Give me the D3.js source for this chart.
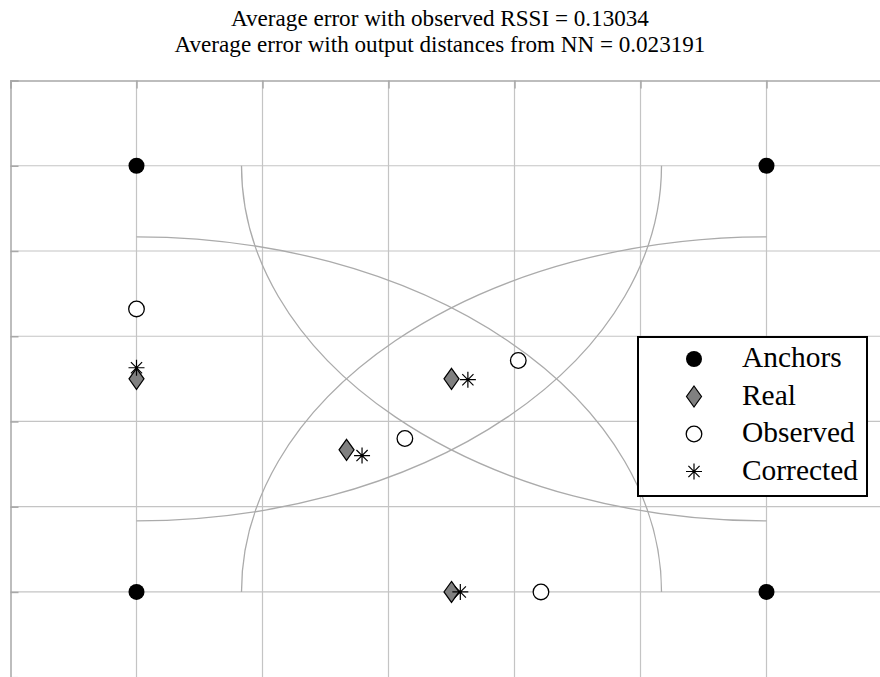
<!DOCTYPE html>
<html>
<head>
<meta charset="utf-8">
<script src="https://cdn.jsdelivr.net/npm/d3@7"></script>
<style>
  html, body { margin: 0; padding: 0; background: #fff; }
  svg { display: block; }
  text { font-family: "Liberation Serif", "DejaVu Serif", serif; fill: #000; }
</style>
</head>
<body>
<svg id="chart" width="880" height="677"></svg>
<script>
// ---- data ----
const titleLines = [
  "Average error with observed RSSI = 0.13034",
  "Average error with output distances from NN = 0.023191"
];
const anchorsX = [0, 5, 0, 5];
const anchorsY = [0, 0, 5, 5];
const realX = [0, 2.5, 1.667, 2.5];
const realY = [2.5, 2.5, 1.667, 0];
const observedX = [0, 3.03, 2.13, 3.21];
const observedY = [3.32, 2.715, 1.80, 0];
const correctedX = [0, 2.63, 1.79, 2.57];
const correctedY = [2.63, 2.49, 1.60, 0];
const circleRadius = [4.1667, 4.1667, 4.1667, 4.1667];
const xTicks = [-1, 0, 1, 2, 3, 4, 5, 6];
const yTicks = [-1, 0, 1, 2, 3, 4, 5, 6];
const legendLabels = ["Anchors", "Real", "Observed", "Corrected"];

// ---- layout ----
const svg = d3.select("#chart");
const x = d3.scaleLinear().domain([-1, 6]).range([10.5, 892.5]);
const y = d3.scaleLinear().domain([-1, 6]).range([677.2, 80.5]);
const gridColor = "#c4c4c4";

svg.append("clipPath").attr("id", "plotclip")
  .append("rect").attr("x", x(-1)).attr("y", y(6)).attr("width", x(6) - x(-1)).attr("height", y(-1) - y(6));
svg.append("clipPath").attr("id", "boxclip")
  .append("rect").attr("x", x(0)).attr("y", y(5)).attr("width", x(5) - x(0)).attr("height", y(0) - y(5));

// title, sized so the long line spans ~531px
const titles = svg.selectAll("text.title").data(titleLines).enter().append("text")
  .attr("class", "title")
  .attr("x", 440).attr("y", (d, i) => 26 + i * 26)
  .attr("text-anchor", "middle")
  .attr("font-size", 20)
  .text(d => d);
const w2 = titles.nodes()[1].getComputedTextLength();
titles.attr("font-size", 20 * 531 / w2);

const plot = svg.append("g").attr("clip-path", "url(#plotclip)");

// grid
plot.selectAll("line.vgrid").data(xTicks.filter(t => t > -1)).enter().append("line")
  .attr("x1", d => x(d)).attr("x2", d => x(d))
  .attr("y1", y(6)).attr("y2", y(-1))
  .attr("stroke", gridColor).attr("stroke-width", 1.2);
plot.selectAll("line.hgrid").data(yTicks.filter(t => t > -1 && t < 6)).enter().append("line")
  .attr("x1", x(-1)).attr("x2", 880)
  .attr("y1", d => y(d)).attr("y2", d => y(d))
  .attr("stroke", gridColor).attr("stroke-width", 1.2);

// axes (frame with inward ticks)
const axisColor = "#a8a8a8";
const leftAxis = svg.append("g").attr("transform", `translate(${x(-1)},0)`)
  .call(d3.axisRight(y).tickValues(yTicks).tickSize(8).tickFormat(""));
const topAxis = svg.append("g").attr("transform", `translate(0,${y(6)})`)
  .call(d3.axisBottom(x).tickValues(xTicks).tickSize(8).tickFormat(""));
[leftAxis, topAxis].forEach(a => {
  a.selectAll("path").attr("stroke", axisColor).attr("stroke-width", 1.5);
  a.selectAll("line").attr("stroke", axisColor).attr("stroke-width", 1.5);
});

// range circles centered on anchors, clipped to anchor box
const circ = svg.append("g").attr("clip-path", "url(#boxclip)");
circ.selectAll("ellipse").data(anchorsX.map((d, i) => i)).enter().append("ellipse")
  .attr("cx", i => x(anchorsX[i])).attr("cy", i => y(anchorsY[i]))
  .attr("rx", i => x(circleRadius[i]) - x(0))
  .attr("ry", i => y(0) - y(circleRadius[i]))
  .attr("fill", "none").attr("stroke", "#ababab").attr("stroke-width", 1.3);

// marker drawers
function drawAnchor(g, cx, cy) {
  g.append("circle").attr("cx", cx).attr("cy", cy).attr("r", 8).attr("fill", "#000");
}
function drawReal(g, cx, cy) {
  const w = 7.5, h = 10.5;
  g.append("path").attr("d", `M${cx},${cy - h}L${cx + w},${cy}L${cx},${cy + h}L${cx - w},${cy}Z`)
    .attr("fill", "#808080").attr("stroke", "#000").attr("stroke-width", 1.2);
}
function drawObserved(g, cx, cy) {
  g.append("circle").attr("cx", cx).attr("cy", cy).attr("r", 7.8)
    .attr("fill", "#fff").attr("stroke", "#000").attr("stroke-width", 1.3);
}
function drawCorrected(g, cx, cy) {
  const r = 8, d = 5.6;
  g.append("path").attr("d",
    `M${cx},${cy - r}L${cx},${cy + r}M${cx - r},${cy}L${cx + r},${cy}` +
    `M${cx - d},${cy - d}L${cx + d},${cy + d}M${cx - d},${cy + d}L${cx + d},${cy - d}`)
    .attr("fill", "none").attr("stroke", "#000").attr("stroke-width", 1.2);
}

const marks = svg.append("g");
realX.forEach((v, i) => drawReal(marks, x(v), y(realY[i])));
correctedX.forEach((v, i) => drawCorrected(marks, x(v), y(correctedY[i])));
observedX.forEach((v, i) => drawObserved(marks, x(v), y(observedY[i])));
anchorsX.forEach((v, i) => drawAnchor(marks, x(v), y(anchorsY[i])));

// legend
const lg = svg.append("g");
lg.append("rect").attr("x", 638).attr("y", 337).attr("width", 229).attr("height", 159)
  .attr("fill", "#fff").attr("stroke", "#000").attr("stroke-width", 2);
const drawers = [drawAnchor, drawReal, drawObserved, drawCorrected];
const ltexts = [];
legendLabels.forEach((lab, i) => {
  const cy = 359 + i * 37.5;
  drawers[i](lg, 694, cy);
  ltexts.push(lg.append("text").attr("x", 742).attr("y", cy + 8).attr("font-size", 22).text(lab));
});
const wc = ltexts[3].node().getComputedTextLength();
ltexts.forEach(t => t.attr("font-size", 22 * 116 / wc));
</script>
</body>
</html>
